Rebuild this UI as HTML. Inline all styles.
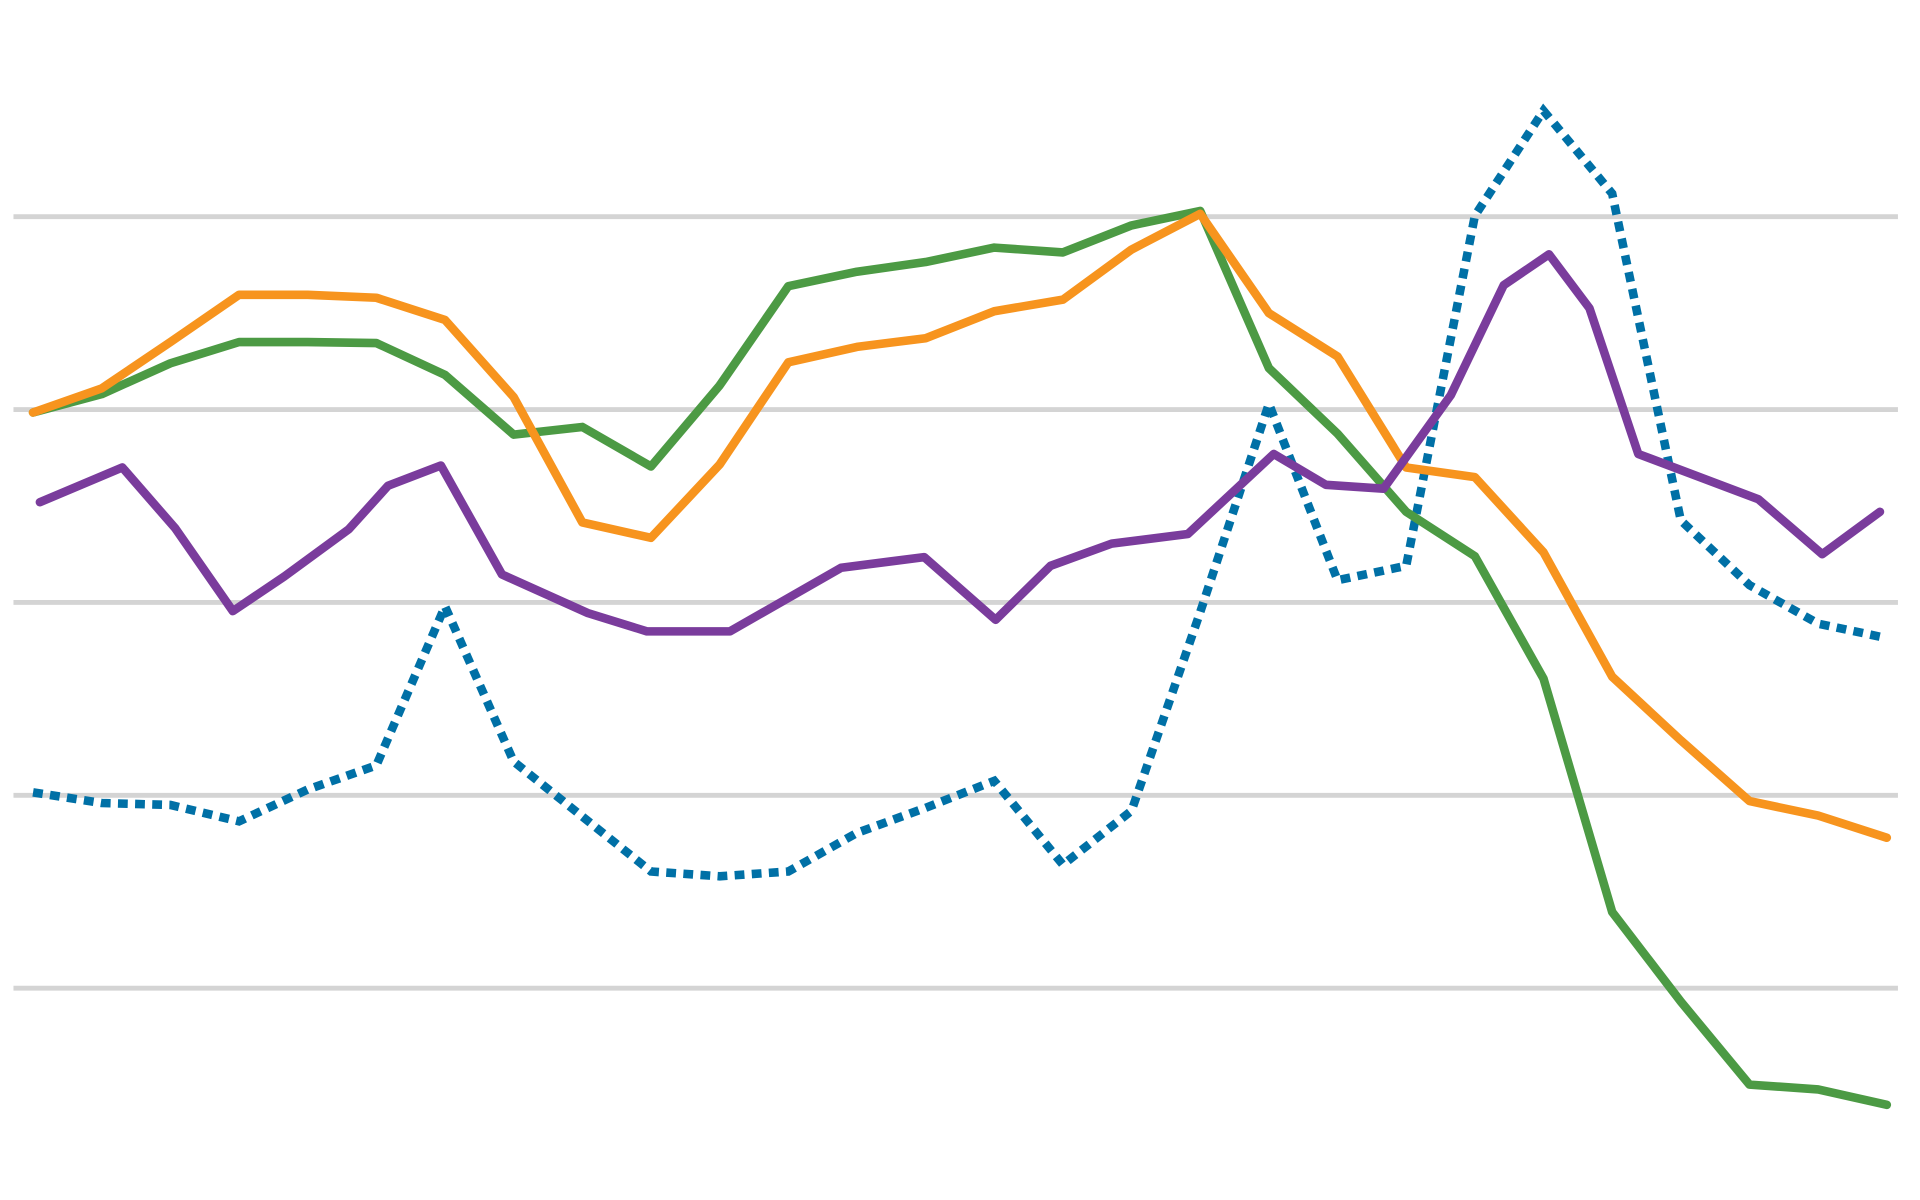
<!DOCTYPE html>
<html><head><meta charset="utf-8"><style>html,body{margin:0;padding:0;background:#fff}svg{display:block}</style></head>
<body>
<svg id="chart" width="1920" height="1200" viewBox="0 0 1568 980" xmlns="http://www.w3.org/2000/svg">
<g id="grid"></g>
<g id="series"></g>
</svg>
<script>
const gridValues = [0, 20, 40, 60, 80];
const xGreen = [0,1,2,3,4,5,6,7,8,9,10,11,12,13,14,15,16,17,18,19,20,21,22,23,24,25,26,27];
const greenValues = [59.7,61.6,64.8,67.0,67.0,66.9,63.6,57.4,58.2,54.1,62.5,72.8,74.3,75.3,76.8,76.3,79.1,80.6,64.3,57.5,49.4,44.8,32.1,7.9,-1.4,-10.0,-10.5,-12.1];
const xOrange = [0,1,2,3,4,5,6,7,8,9,10,11,12,13,14,15,16,17,18,19,20,21,22,23,24,25,26,27];
const orangeValues = [59.7,62.2,67.0,71.9,71.9,71.6,69.3,61.3,48.3,46.7,54.3,64.9,66.5,67.4,70.2,71.4,76.6,80.3,70.0,65.5,54.0,53.0,45.2,32.3,25.7,19.4,17.9,15.6];
const xPurple = [0.1,1.3,2.07,2.91,3.66,4.6,5.17,5.94,6.83,8.08,8.94,10.15,11.77,12.98,14.02,14.82,15.71,16.82,18.07,18.83,19.67,20.65,21.42,22.08,22.67,23.38,25.13,26.06,26.9];
const purpleValues = [50.4,54.0,47.7,39.1,42.7,47.6,52.1,54.2,42.9,38.9,37.0,37.0,43.6,44.7,38.2,43.8,46.1,47.1,55.4,52.2,51.8,61.5,72.9,76.1,70.5,55.4,50.7,45.0,49.4];
const xBlue = [0,1,2,3,4,5,6,7,8,9,10,11,12,13,14,15,16,17,18,19,20,21,22,23,24,25,26,27];
const blueValues = [20.3,19.2,19.0,17.3,20.6,23.1,39.6,23.5,17.8,12.1,11.6,12.1,16.1,18.7,21.5,12.8,18.4,39.0,60.6,42.3,43.8,80.1,91.0,82.4,48.5,41.8,37.8,36.3];

const NS = 'http://www.w3.org/2000/svg';
function xScale(i){ return 27 + i * 56.07; }
function yScale(v){ return 807 - v * 630 / 80; }

const grid = document.getElementById('grid');
gridValues.forEach(v => {
  const l = document.createElementNS(NS, 'line');
  
  
  l.setAttribute('x1', 11); l.setAttribute('x2', 1550);
  l.setAttribute('y1', yScale(v)); l.setAttribute('y2', yScale(v));
  l.setAttribute('stroke', '#d4d4d4'); l.setAttribute('stroke-width', 4);
  grid.appendChild(l);
});

const g = document.getElementById('series');
function drawLine(xs, vals, color, name, dotted){
  const p = document.createElementNS(NS, 'polyline');
  
  
  p.setAttribute('points', xs.map((x, i) => xScale(x) + ',' + yScale(vals[i])).join(' '));
  p.setAttribute('fill', 'none');
  p.setAttribute('stroke', color);
  p.setAttribute('stroke-width', 7);
  if (dotted) {
    p.setAttribute('stroke-dasharray', '8 6');
    p.setAttribute('stroke-linejoin', 'miter');
  } else {
    p.setAttribute('stroke-linecap', 'round');
    p.setAttribute('stroke-linejoin', 'round');
  }
  g.appendChild(p);
}
drawLine(xBlue, blueValues, '#0070a6', 'blue-dotted-series', true);
drawLine(xGreen, greenValues, '#4c9a44', 'green-series', false);
drawLine(xOrange, orangeValues, '#f7941e', 'orange-series', false);
drawLine(xPurple, purpleValues, '#7a3c9c', 'purple-series', false);
</script>
</body></html>
